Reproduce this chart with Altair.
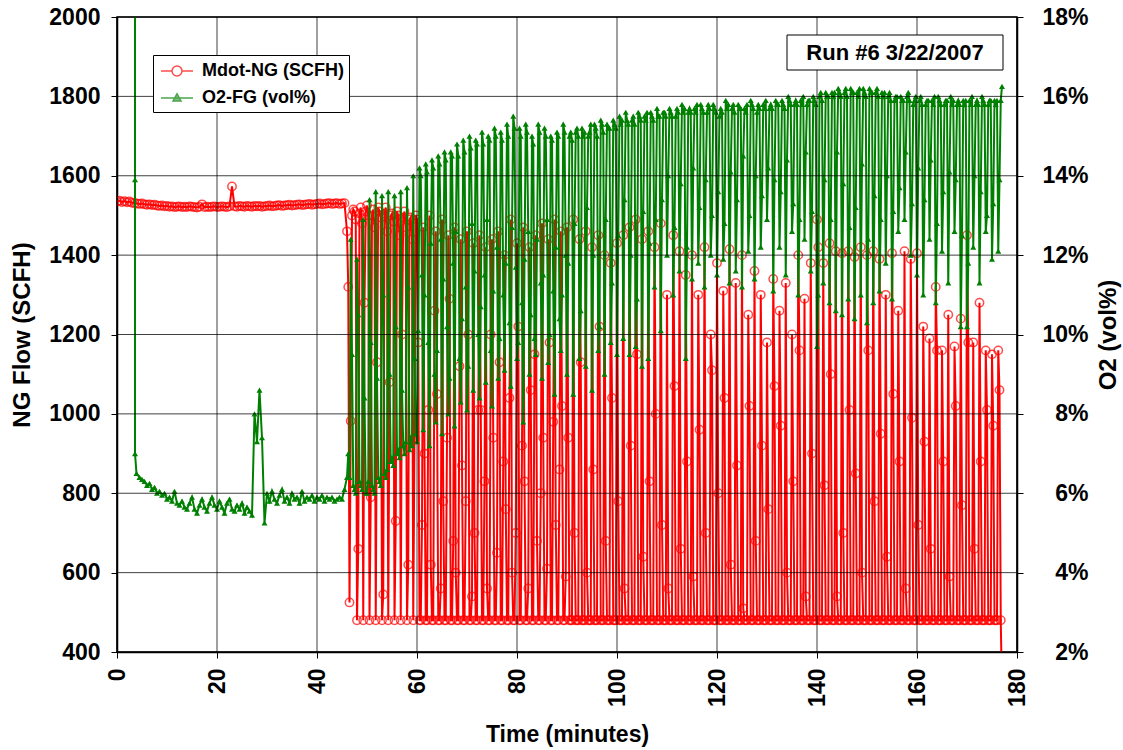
import altair as alt
import numpy as np
import pandas as pd

# ---------------- data ----------------
series_names = ["Mdot-NG (SCFH)", "O2-FG (vol%)"]
run_label = "Run #6 3/22/2007"

# NG flow, steady part: t = 0 .. 46 min every 0.5 min
ng_steady = [1535, 1537, 1534, 1536, 1533, 1535, 1532,
             1531, 1530, 1529, 1530, 1528, 1527, 1528, 1526, 1527, 1525,
             1524, 1525, 1523, 1524, 1522, 1523, 1521, 1522, 1523, 1521,
             1522, 1521, 1523, 1522, 1521, 1520, 1522, 1528, 1521, 1522,
             1521, 1522, 1523, 1521, 1522, 1523, 1522, 1521, 1523, 1573,
             1523, 1522, 1524, 1523, 1522, 1524, 1523, 1522, 1524, 1523,
             1524, 1522, 1523, 1524, 1525, 1523, 1524, 1525, 1526, 1524,
             1525, 1526, 1527, 1525, 1526, 1527, 1528, 1526, 1527, 1528,
             1529, 1527, 1528, 1529, 1530, 1528, 1529, 1530, 1531, 1529,
             1530, 1531, 1529, 1530, 1531, 1460]

# NG flow, cycling part: t = 46.25 .. 177 min every 0.25 min
ng_cycling = [
    # 46.25 - 59.75
    1320, 525, 982, 1500, 1515,   1510, 1490, 480, 660, 1505,   1520, 1480, 480, 1280, 1510,
    1525, 1500, 480, 790, 1500,   1515, 1470, 480, 1130, 1520,  1510, 1495, 480, 545, 1505,
    1520, 1460, 480, 1080, 1500,  1505, 1485, 480, 730, 1510,   1500, 1450, 480, 1200, 1495,
    1510, 1470, 480, 620, 1490,   1495, 1440, 480, 940, 1500,
    # 60 - 89.75
    1490, 1180, 480, 480, 720,    1470, 900, 480, 480, 1010,    1500, 620, 480, 480, 1260,
    1460, 1050, 480, 480, 560,    1490, 780, 480, 480, 940,     1450, 1290, 480, 480, 680,
    1470, 600, 480, 480, 1120,    1440, 870, 480, 480, 780,     1460, 1200, 480, 480, 540,
    1430, 700, 480, 480, 1010,    1450, 1010, 480, 480, 830,    1420, 560, 480, 480, 1200,
    1440, 940, 480, 480, 650,     1460, 1130, 480, 480, 880,    1400, 760, 480, 480, 1040,
    1490, 600, 480, 480, 700,     1430, 1220, 480, 480, 920,    1470, 830, 480, 480, 560,
    1420, 1060, 480, 480, 1150,   1450, 680, 480, 480, 800,     1480, 940, 480, 480, 610,
    1440, 1180, 480, 480, 980,    1490, 720, 480, 480, 860,     1460, 1020, 480, 480, 590,
    # 90 - 99.75
    1470, 940, 480, 480, 480,     1490, 700, 480, 480, 480,     1440, 1130, 480, 480, 480,
    1460, 600, 480, 480, 480,     1420, 860, 480, 480, 480,     1450, 1220, 480, 480, 480,
    1400, 680, 480, 480, 480,     1380, 1040, 480, 480, 480,
    # 100 - 109.75
    1430, 780, 480, 480, 480,     1450, 560, 480, 480, 480,     1470, 920, 480, 480, 480,
    1490, 1150, 480, 480, 480,    1440, 640, 480, 480, 480,     1460, 830, 480, 480, 480,
    1420, 1000, 480, 480, 480,    1480, 720, 480, 480, 480,
    # 110 - 119.75
    1300, 560, 480, 480, 480,     1450, 1070, 480, 480, 480,    1410, 660, 480, 480, 480,
    1350, 880, 480, 480, 480,     1400, 590, 480, 480, 480,     1300, 960, 480, 480, 480,
    1420, 700, 480, 480, 480,     1200, 1110, 480, 480, 480,
    # 120 - 129.75
    1380, 800, 480, 480, 480,     1310, 1040, 480, 480, 480,    1415, 620, 480, 480, 480,
    1330, 870, 480, 480, 480,     1400, 510, 480, 480, 480,     1250, 1020, 480, 480, 480,
    1360, 680, 480, 480, 480,     1300, 920, 480, 480, 480,
    # 130 - 139.75
    1180, 760, 480, 480, 480,     1340, 1070, 480, 480, 480,    1260, 970, 480, 480, 480,
    1330, 600, 480, 480, 480,     1200, 830, 480, 480, 480,     1400, 1160, 480, 480, 480,
    1290, 540, 480, 480, 480,     1380, 900, 480, 480, 480,
    # 140 - 149.75
    1490, 1420, 480, 480, 480,    1380, 820, 480, 480, 480,     1430, 1100, 480, 480, 480,
    1410, 540, 480, 480, 480,     1405, 700, 480, 480, 480,     1410, 1010, 480, 480, 480,
    1395, 850, 480, 480, 480,     1420, 600, 480, 480, 480,
    # 150 - 159.75
    1400, 1160, 480, 480, 480,    1410, 780, 480, 480, 480,     1390, 950, 480, 480, 480,
    1300, 640, 480, 480, 480,     1405, 1050, 480, 480, 480,    1260, 880, 480, 480, 480,
    1410, 560, 480, 480, 480,     1390, 990, 480, 480, 480,
    # 160 - 169.75
    1405, 720, 480, 480, 480,     1220, 930, 480, 480, 480,     1190, 660, 480, 480, 480,
    1320, 1160, 480, 480, 480,    1160, 880, 480, 480, 480,     1250, 590, 480, 480, 480,
    1170, 1020, 480, 480, 480,    1240, 770, 480, 480, 480,
    # 170 - 177
    1450, 1180, 480, 480, 480,    1180, 660, 480, 480, 480,     1280, 880, 480, 480, 480,
    1160, 1010, 480, 480, 480,    1150, 970, 480, 480, 480,
    1160, 1060, 480, 300]

# O2 start-up (analyser coming on line)
o2_startup_time = [3.6, 3.6, 3.6, 3.9]
o2_startup = [30.0, 13.9, 7.0, 6.5]

# O2, steady part: t = 4.5 .. 46 min every 0.5 min
o2_steady = [6.4, 6.35, 6.3, 6.2, 6.25, 6.1, 6.15, 6.0, 6.05, 5.95,
             6.0, 5.85, 5.9, 5.8, 6.05, 5.75, 5.7, 5.8, 5.65, 5.6,
             5.75, 5.9, 5.6, 5.5, 5.7, 5.85, 5.65, 5.55, 5.75, 5.9,
             5.7, 5.6, 5.8, 5.65, 5.5, 5.75, 5.85, 5.6, 5.55, 5.7,
             5.6, 5.75, 5.5, 5.65, 5.55, 5.45, 8.0, 7.3, 8.6, 7.4,
             5.25, 6.0, 5.8, 6.05, 5.85, 5.75, 5.95, 6.1, 5.8, 5.9,
             5.75, 6.0, 5.85, 5.9, 5.75, 6.05, 5.8, 5.9, 5.85, 5.95,
             5.8, 5.9, 5.85, 5.95, 5.8, 5.9, 5.85, 5.9, 5.8, 5.85,
             5.9, 5.85, 6.1, 6.4]

# O2, cycling part: t = 46.25 .. 177 min every 0.25 min
o2_cycling = [
    # 46.25 - 59.75
    7.0, 6.4, 12.4, 9.5, 6.2,     6.1, 6.0, 11.9, 10.5, 6.3,    6.2, 6.1, 12.9, 8.4, 6.0,
    6.0, 6.3, 13.4, 9.8, 6.2,     6.1, 6.0, 13.6, 8.9, 6.4,     6.3, 6.2, 13.5, 11.0, 6.5,
    6.4, 6.6, 13.6, 9.0, 6.8,     6.9, 6.7, 13.5, 10.2, 7.0,    7.1, 6.9, 13.6, 8.6, 7.2,
    7.0, 7.3, 13.7, 11.2, 7.1,    7.4, 7.2, 14.0, 9.4, 7.5,
    # 60 - 89.75
    7.3, 10.1, 14.2, 14.0, 11.5,  7.6, 11.0, 14.3, 14.1, 9.8,   7.2, 12.3, 14.4, 14.2, 9.0,
    7.8, 9.6, 14.5, 14.3, 12.4,   7.5, 11.4, 14.6, 14.4, 10.2,  8.0, 8.9, 14.6, 14.5, 11.8,
    7.7, 12.6, 14.8, 14.5, 9.4,   8.3, 10.4, 14.9, 14.6, 11.2,  8.1, 9.2, 15.0, 14.7, 12.8,
    8.6, 11.6, 14.9, 14.8, 10.0,  8.4, 10.7, 15.1, 14.8, 11.5,  8.8, 12.9, 15.0, 14.9, 9.6,
    8.2, 11.1, 15.2, 15.0, 12.2,  8.9, 9.9, 15.1, 14.9, 11.0,   9.1, 11.8, 15.3, 15.0, 10.3,
    8.7, 12.7, 15.5, 15.2, 11.7,  9.4, 9.8, 15.2, 15.0, 10.8,   7.8, 11.9, 15.3, 15.1, 12.6,
    9.0, 10.5, 15.0, 14.8, 9.9,   9.5, 12.4, 15.3, 15.1, 11.3,  8.9, 11.5, 15.2, 15.0, 12.9,
    9.3, 10.0, 15.0, 14.9, 11.1,  8.5, 12.2, 15.1, 15.0, 10.4,  9.6, 11.0, 15.3, 15.1, 12.0,
    # 90 - 99.75
    9.0, 11.8, 15.0, 15.1, 14.9,  8.5, 12.8, 15.1, 15.2, 15.0,  9.4, 10.6, 15.2, 15.0, 15.1,
    9.2, 13.2, 15.0, 15.1, 15.3,  8.6, 12.0, 15.3, 15.2, 15.0,  9.6, 10.2, 15.4, 15.3, 15.1,
    9.0, 12.9, 15.3, 15.2, 15.2,  9.8, 11.3, 15.4, 15.3, 15.2,
    # 100 - 109.75
    9.5, 12.5, 15.5, 15.3, 15.4,  9.9, 13.4, 15.6, 15.4, 15.3,  9.5, 12.0, 15.4, 15.5, 15.3,
    9.7, 10.9, 15.6, 15.5, 15.4,  9.2, 13.1, 15.5, 15.4, 15.6,  9.4, 12.3, 15.6, 15.5, 15.4,
    11.2, 12.9, 15.7, 15.5, 15.5, 10.1, 13.4, 15.6, 15.6, 15.5,
    # 110 - 119.75
    12.0, 14.0, 15.7, 15.6, 15.5, 11.0, 12.7, 15.5, 15.7, 15.6, 11.6, 13.8, 15.8, 15.6, 15.7,
    9.4, 12.2, 15.6, 15.7, 15.6,  11.4, 14.2, 15.7, 15.6, 15.8, 11.8, 13.2, 15.8, 15.7, 15.6,
    11.2, 13.9, 15.6, 15.8, 15.7, 12.0, 13.0, 15.8, 15.7, 15.6,
    # 120 - 129.75
    11.5, 13.6, 15.5, 15.7, 15.6, 11.9, 12.8, 15.9, 15.7, 15.8, 11.3, 14.1, 15.7, 15.8, 15.6,
    11.6, 13.4, 15.8, 15.7, 15.7, 11.2, 14.5, 15.7, 15.6, 15.8, 12.1, 13.0, 15.9, 15.8, 15.7,
    11.4, 14.0, 15.6, 15.8, 15.7, 12.2, 13.5, 15.8, 15.7, 15.9,
    # 130 - 139.75
    12.9, 14.2, 15.7, 15.8, 15.7, 11.1, 13.9, 15.9, 15.8, 15.8, 12.2, 13.6, 15.9, 15.8, 15.7,
    11.5, 14.4, 16.0, 15.9, 15.8, 12.6, 13.3, 15.8, 15.9, 15.8, 11.0, 12.9, 15.9, 15.8, 16.0,
    12.4, 14.6, 15.8, 15.9, 15.9, 11.6, 13.1, 16.0, 15.9, 15.8,
    # 140 - 149.75
    9.7, 11.0, 16.0, 16.1, 15.9,  11.3, 13.9, 16.1, 16.0, 16.0, 10.8, 12.9, 16.1, 16.0, 16.1,
    10.6, 14.6, 16.2, 16.1, 16.0, 10.5, 13.8, 16.1, 16.2, 16.0, 10.9, 12.7, 16.2, 16.1, 16.1,
    10.4, 13.2, 16.1, 16.0, 16.2, 11.0, 14.3, 16.2, 16.1, 16.0,
    # 150 - 159.75
    10.3, 12.4, 16.2, 16.1, 16.1, 10.8, 13.5, 16.1, 16.2, 16.0, 11.1, 12.9, 16.1, 16.0, 16.1,
    11.8, 14.0, 16.0, 16.1, 15.9, 10.9, 13.1, 15.9, 16.0, 16.0, 12.6, 13.7, 16.0, 15.9, 15.9,
    12.9, 14.6, 16.0, 16.1, 15.9, 12.0, 13.3, 15.8, 15.9, 16.0,
    # 160 - 169.75
    11.5, 14.2, 15.9, 16.0, 15.8, 11.0, 13.4, 15.8, 15.9, 15.9, 12.4, 14.4, 15.9, 15.8, 16.0,
    10.8, 12.8, 16.0, 15.9, 15.8, 12.1, 13.6, 15.8, 15.9, 15.9, 11.3, 14.1, 16.0, 15.8, 15.9,
    12.6, 13.9, 15.8, 15.9, 15.8, 10.2, 12.5, 15.9, 15.8, 15.9,
    # 170 - 177
    10.2, 11.8, 15.9, 15.8, 16.0, 12.2, 14.0, 15.8, 15.9, 15.8, 11.3, 13.6, 16.0, 15.9, 15.8,
    12.6, 13.0, 15.8, 15.9, 15.9, 11.9, 13.3, 15.9, 15.8, 15.9,
    12.1, 13.9, 15.9, 16.25]

x_ticks = [0, 20, 40, 60, 80, 100, 120, 140, 160, 180]
ng_ticks = [400, 600, 800, 1000, 1200, 1400, 1600, 1800, 2000]
o2_ticks = [2, 4, 6, 8, 10, 12, 14, 16, 18]

# ---------------- tables ----------------
t_steady = np.round(np.arange(0, 46.0 + 1e-9, 0.5), 2)
t_cycle = np.round(np.arange(46.25, 177.0 + 1e-9, 0.25), 2)
t_o2_steady = np.round(np.arange(4.5, 46.0 + 1e-9, 0.5), 2)
assert len(t_steady) == len(ng_steady), (len(t_steady), len(ng_steady))
assert len(t_cycle) == len(ng_cycling), (len(t_cycle), len(ng_cycling))
assert len(t_cycle) == len(o2_cycling), (len(t_cycle), len(o2_cycling))
assert len(t_o2_steady) == len(o2_steady)

ng_df = pd.DataFrame({
    "t": np.concatenate([t_steady, t_cycle]),
    "v": ng_steady + ng_cycling,
})
ng_df["i"] = np.arange(len(ng_df))

o2_df = pd.DataFrame({
    "t": np.concatenate([o2_startup_time, t_o2_steady, t_cycle]),
    "v": o2_startup + o2_steady + o2_cycling,
})
o2_df["i"] = np.arange(len(o2_df))

FONT = "Liberation Sans"
RED = "#FF0000"
GREEN = "#008000"
H = 635

x_enc = alt.X("t:Q", scale=alt.Scale(domain=[0, 180], nice=False, zero=False),
              axis=alt.Axis(values=x_ticks, title="Time (minutes)", labelAngle=270,
                            grid=False, tickSize=6, labelPadding=10,
                            labelFontSize=23, titleFontSize=23,
                            titleX=450, titleY=82, titleBaseline="middle",
                            titleAlign="center"))

ng_y = alt.Y("v:Q", scale=alt.Scale(domain=[400, 2000], nice=False, zero=False),
             axis=alt.Axis(values=ng_ticks, title="NG Flow (SCFH)", orient="left",
                           format="d", grid=False, tickSize=6, labelPadding=11,
                           labelFontSize=23, titleFontSize=24,
                           titleX=-95, titleY=H / 2, titleAngle=270,
                           titleBaseline="middle", titleAlign="center"))

o2_y = alt.Y("v:Q", scale=alt.Scale(domain=[2, 18], nice=False, zero=False),
             axis=alt.Axis(values=o2_ticks, title="O2 (vol%)", orient="right",
                           grid=False, tickSize=6, labelPadding=65, labelAlign="right",
                           labelExpr="datum.value + '%'",
                           labelFontSize=23, titleFontSize=24,
                           titleX=91, titleY=H / 2, titleAngle=270,
                           titleBaseline="middle", titleAlign="center"))

grid_y = alt.Y("v:Q", scale=alt.Scale(domain=[400, 2000], nice=False, zero=False),
               axis=None)

ng_base = alt.Chart(ng_df).encode(x=x_enc, y=ng_y, order=alt.Order("i:Q"))
ng_layer = alt.layer(
    ng_base.mark_line(color=RED, strokeWidth=2, clip=True),
    ng_base.mark_point(shape="circle", size=70, filled=False, color=RED,
                       strokeWidth=1.5, clip=True),
)

o2_base = alt.Chart(o2_df).encode(x=x_enc, y=o2_y, order=alt.Order("i:Q"))
o2_layer = alt.layer(
    o2_base.mark_line(color=GREEN, strokeWidth=2, clip=True),
    o2_base.mark_point(shape="triangle-up", size=36, filled=True, color=GREEN,
                       opacity=1, clip=True),
)

# grid lines, drawn over the data as in the reference
vgrid = alt.Chart(pd.DataFrame({"t": x_ticks})).mark_rule(
    color="black", strokeWidth=1, opacity=0.75).encode(x=x_enc)
hgrid = alt.Chart(pd.DataFrame({"v": ng_ticks})).mark_rule(
    color="black", strokeWidth=1, opacity=0.75).encode(y=grid_y)

# legend (line + marker symbols)
circle_path = ("M-1.6,0L-0.5,0M0.5,0L1.6,0M-0.5,0A0.5,0.5,0,1,1,0.5,0"
               "A0.5,0.5,0,1,1,-0.5,0Z")
tri_path = "M-1.6,0L1.6,0M-0.4,0.3L0,-0.42L0.4,0.3Z"
leg = alt.Legend(title=None, orient="none", legendX=36, legendY=38,
                 fillColor="white", strokeColor="black", padding=5,
                 symbolSize=400, symbolStrokeWidth=1.5, symbolOffset=8,
                 labelOffset=14, rowPadding=7,
                 labelFont=FONT, labelFontWeight="bold", labelFontSize=18,
                 labelColor="black")
legend_layer = alt.Chart(pd.DataFrame({"series": series_names})).transform_filter(
    "false"
).mark_point(size=400, strokeWidth=1.5).encode(
    shape=alt.Shape("series:N", scale=alt.Scale(domain=series_names,
                                                range=[circle_path, tri_path]), legend=leg),
    stroke=alt.Stroke("series:N", scale=alt.Scale(domain=series_names,
                                                  range=[RED, GREEN]), legend=leg),
    fill=alt.Fill("series:N", scale=alt.Scale(domain=series_names,
                                              range=["white", GREEN]), legend=leg),
)

# run label box
label_df = pd.DataFrame({"label": [run_label]})
box = alt.Chart(label_df).mark_rect(fill="white", stroke="black", strokeWidth=1).encode(
    x=alt.value(670), x2=alt.value(886), y=alt.value(18), y2=alt.value(53))
box_text = alt.Chart(label_df).mark_text(font=FONT, fontWeight="bold", fontSize=22,
                                         align="center", baseline="middle",
                                         color="black").encode(
    x=alt.value(778), y=alt.value(36), text="label:N")

chart = alt.layer(ng_layer, o2_layer, vgrid, hgrid, legend_layer, box, box_text
                  ).resolve_scale(
    y="independent"
).properties(
    width=900, height=H,
    padding={"left": 117, "top": 17, "right": 106, "bottom": 98},
    autosize=alt.AutoSizeParams(type="none"),
    background="white",
).configure_view(
    fill="#FFFFCC", stroke="black", strokeWidth=1.5
).configure_axis(
    labelFont=FONT, titleFont=FONT, labelFontWeight="bold", titleFontWeight="bold",
    labelColor="black", titleColor="black", domainColor="black", tickColor="black",
    domainWidth=1.5, tickWidth=1,
)

chart.save("out.html", embed_options={"renderer": "svg", "actions": False})
